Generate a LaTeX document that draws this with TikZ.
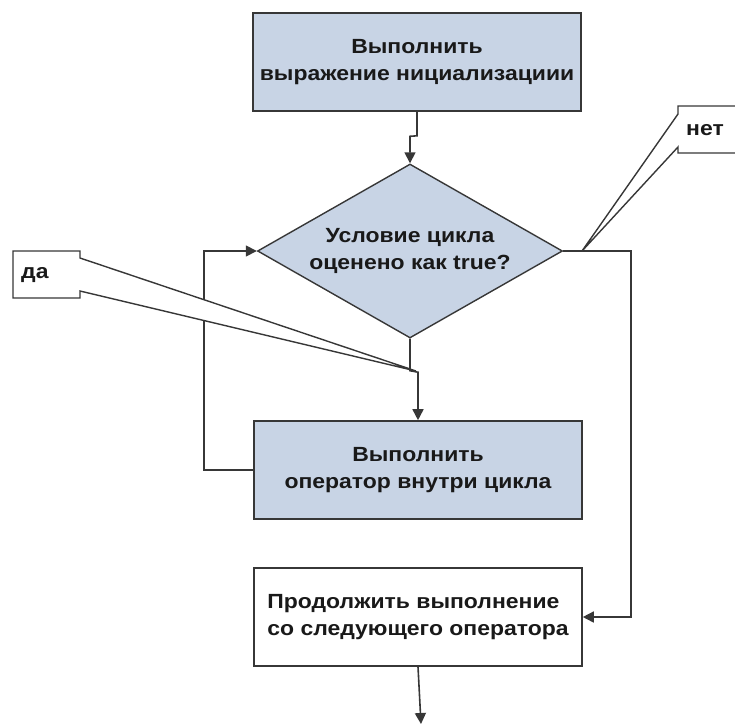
\documentclass[tikz,border=0pt]{standalone}
\usepackage{fontspec}
\setmainfont[FakeStretch=1.12]{Liberation Sans}
\usetikzlibrary{shapes.geometric,arrows.meta,calc}
\definecolor{boxfill}{RGB}{200,212,229}
\definecolor{edge}{RGB}{55,55,55}
\definecolor{ink}{RGB}{25,25,25}
\begin{document}
\begin{tikzpicture}[x=1pt,y=-1pt,
  every node/.style={font=\fontsize{20.5}{27}\selectfont\bfseries, text=ink},
  stepbox/.style={draw=edge, line width=1.6pt, minimum width=328pt, minimum height=98pt, inner sep=0pt, align=center},
  filled/.style={fill=boxfill},
  decision/.style={diamond, draw=edge, fill=boxfill, line width=1.4pt, minimum width=305pt, minimum height=174pt, inner sep=0pt, aspect=1.75, align=center},
  arr/.style={draw=edge, line width=1.6pt, -{Triangle[length=11pt,width=11pt]}},
  callout/.style={draw=edge, line width=1.4pt, fill=white, line join=miter}
]
\useasboundingbox (0,0) rectangle (735,726);

% flowchart blocks
\node[stepbox, filled] (init) at (417,62) {Выполнить\\выражение нициализациии};
\node[decision] (cond) at (410,251) {Условие цикла\\оценено как true?};
\node[stepbox, filled] (body) at (418,470) {Выполнить\\оператор внутри цикла};
\node[stepbox, fill=white, align=left] (next) at (418,617) {Продолжить выполнение\\со следующего оператора};

% connectors
\draw[arr] (init.south) -- ++(0,24) -- ($(cond.north)+(0,-27)$) -- (cond.north);
\draw[arr] (cond.south) -- ++(0,32) -- ($(body.north)+(0,-48)$) -- (body.north);
\draw[arr] (body.west) -- ++(-49,0) |- (cond.west);
\draw[arr] (cond.east) -- ++(68,0) |- (next.east);
\coordinate (exit) at (421,724);
\draw[arr] (next.south) -- (exit);

% callouts
\coordinate (yestip) at (416,371);
\draw[callout] (80,258) -- (80,251) -- (13,251) -- (13,298) -- (80,298) -- (80,291) -- (yestip) -- cycle;
\node[anchor=west, inner sep=0pt] (yes) at (21,275) {да};

\coordinate (notip) at (582,251);
\draw[callout] (740,106) -- (678,106) -- (678,114) -- (notip) -- (678,147) -- (678,153) -- (740,153);
\node (no) at (705,130) {нет};
\end{tikzpicture}
\end{document}
